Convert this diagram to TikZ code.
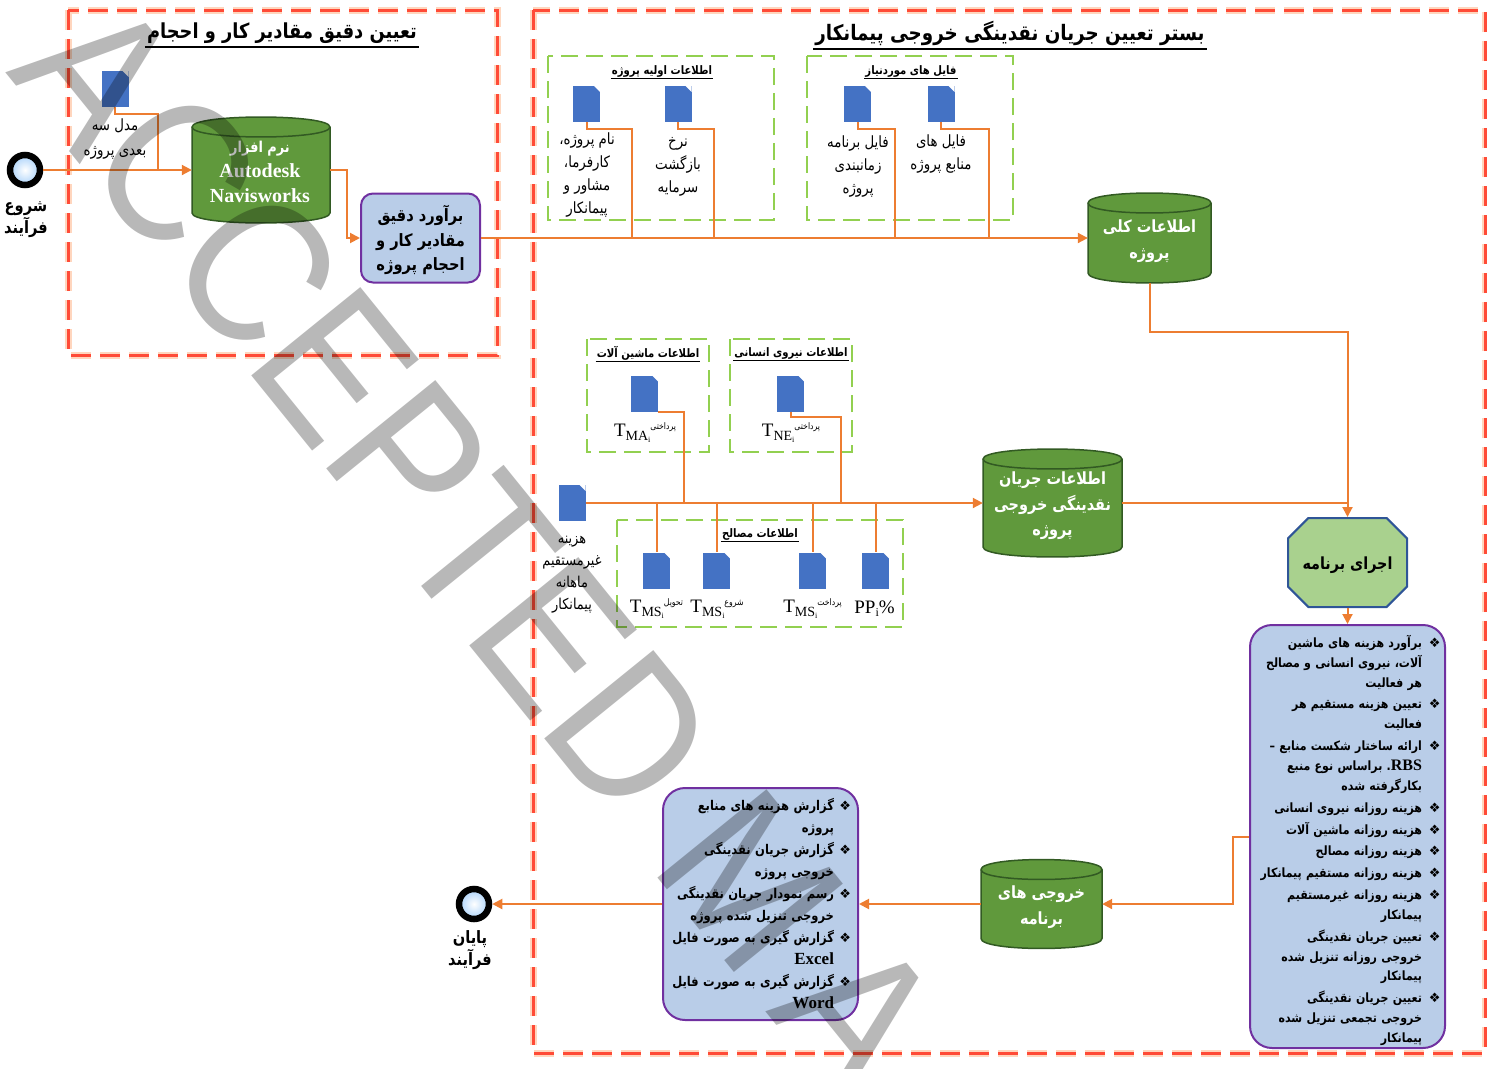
\documentclass[tikz,border=0pt]{standalone}
\usepackage{fontspec}
\usepackage{tikz}
\usepackage{xcolor}
\usetikzlibrary{arrows.meta,shapes.misc}
\setmainfont{Liberation Serif}
\newfontfamily\fa[Script=Arabic,FakeStretch=0.86]{DejaVu Sans}
\newfontfamily\symb{DejaVu Sans}
\newfontfamily\wmark{Liberation Sans}
\TeXXeTstate=1
\definecolor{flowline}{RGB}{237,125,49}
\definecolor{zonered}{RGB}{255,75,55}
\definecolor{zoneglow}{RGB}{255,214,190}
\definecolor{groupgreen}{RGB}{146,208,80}
\definecolor{cylgreen}{RGB}{96,153,60}
\definecolor{cyldark}{RGB}{50,90,35}
\definecolor{docblue}{RGB}{68,114,196}
\definecolor{boxblue}{RGB}{185,205,232}
\definecolor{boxpurple}{RGB}{112,48,160}
\definecolor{runfill}{RGB}{169,209,142}
\definecolor{runedge}{RGB}{47,85,151}
\definecolor{eventblue}{RGB}{170,210,250}
% a line of right-to-left text
\newcommand{\fl}[1]{\beginR #1\endR}
% list lines: with a bullet, and continued
\newcommand{\bulletw}{18.5pt}
\newcommand{\bulletgap}{0pt}
\newcommand{\itm}[1]{\fl{#1}\makebox[\bulletw][r]{\symb\fontsize{13}{13}\selectfont ❖\hspace{\bulletgap}}}
\newcommand{\cnt}[1]{\fl{#1}\makebox[\bulletw]{}}
\newcommand{\tlabel}[2]{{\fontsize{19}{19}\selectfont T\raisebox{-4pt}{\fontsize{14}{14}\selectfont #1\raisebox{-2pt}{\fontsize{8}{8}\selectfont i}}}\raisebox{7pt}{\fa\fontsize{9}{9}\selectfont\fl{#2}}}
% drum with a name: name, x, y, width, height, text
\newcommand{\storenode}[6]{%
    \path[storebody] (#2-#4/2,#3-#5/2+10) .. controls (#2-#4/2,#3-#5/2-3.3) and (#2+#4/2,#3-#5/2-3.3) .. (#2+#4/2,#3-#5/2+10)
        -- (#2+#4/2,#3+#5/2-10) .. controls (#2+#4/2,#3+#5/2+3.3) and (#2-#4/2,#3+#5/2+3.3) .. (#2-#4/2,#3+#5/2-10) -- cycle;
    \draw[cyldark, line width=1.5pt] (#2-#4/2,#3-#5/2+10) .. controls (#2-#4/2,#3-#5/2+23.3) and (#2+#4/2,#3-#5/2+23.3) .. (#2+#4/2,#3-#5/2+10);
    \node[inner sep=0pt, minimum width=#4, minimum height=#5] (#1) at (#2,#3) {};
    \node[store] (#1Lab) at (#2,#3+3) {#6};
}

\tikzset{
    zone/.style={draw=zonered, line width=3pt, dash pattern=on 20pt off 9pt,
        preaction={draw=zoneglow, line width=7pt, dash pattern=on 20pt off 9pt}},
    group/.style={draw=groupgreen, line width=2pt, dash pattern=on 17pt off 8pt},
    flow/.style={draw=flowline, line width=2pt},
    flowto/.style={flow, -{Triangle[length=10pt,width=10pt]}},
    docfile/.style={rectangle, minimum width=27, minimum height=36, inner sep=0pt, fill=docblue,
        path picture={\fill[white] (path picture bounding box.north east) -- ++(-6pt,0pt) -- ++(6pt,-6pt) -- cycle;}},
    storebody/.style={draw=cyldark, line width=1.5pt, fill=cylgreen},
    store/.style={rectangle, inner sep=0pt, text=white, align=center,
        font=\fa\bfseries\fontsize{16.8}{25.5}\selectfont},
    infobox/.style={rectangle, rounded corners=12pt, draw=boxpurple, line width=2pt, fill=boxblue,
        inner sep=0pt, align=right},
    event/.style={circle, draw=black, line width=6.5pt, minimum size=30, inner sep=0pt,
        inner color=white, outer color=eventblue},
    eventlab/.style={align=center, font=\fa\bfseries\fontsize{17}{22}\selectfont},
    ttl/.style={inner xsep=2pt, inner ysep=3.5pt, font=\fa\bfseries\fontsize{20.7}{24}\selectfont},
    grouphead/.style={inner sep=1pt, font=\fa\bfseries\fontsize{11.7}{13}\selectfont},
    doclab/.style={align=center, font=\fa\fontsize{15.5}{23}\selectfont},
    listtext/.style={font=\fa\bfseries\fontsize{12.8}{19.85}\selectfont},
    runfont/.style={font=\fa\bfseries\fontsize{16.7}{18}\selectfont}
}

\begin{document}
\begin{tikzpicture}[x=1pt, y=-1pt]
    \useasboundingbox (0,0) rectangle (1487,1068);

    % Zones
    \draw[zone] (68,10) rectangle (497,355);
    \draw[zone] (533,10) rectangle (1485,1053);
    \node[ttl] (ttlQuantity) at (282,33) {\fl{تعیین دقیق مقادیر کار و احجام}};
    \node[ttl, font=\fa\bfseries\fontsize{21.3}{24}\selectfont] (ttlContext) at (1010,33) {\fl{بستر تعیین جریان نقدینگی خروجی پیمانکار}};
    \draw[line width=1.5pt] (ttlQuantity.south west) -- (ttlQuantity.south east);
    \draw[line width=1.5pt] (ttlContext.south west) -- (ttlContext.south east);

    % Dashed groups
    \draw[group] (548,56) rectangle (774,220);
    \draw[group] (807,56) rectangle (1013,220);
    \draw[group] (587,339) rectangle (709,452);
    \draw[group] (730,339) rectangle (852,452);
    \draw[group] (617,520) rectangle (903,627);
    \node[grouphead] (headProject) at (662,71) {\fl{اطلاعات اولیه پروژه}};
    \node[grouphead] (headFiles) at (911,71) {\fl{فایل های موردنیاز}};
    \node[grouphead] (headMachine) at (648,353) {\fl{اطلاعات ماشین آلات}};
    \node[grouphead] (headLabour) at (791,353) {\fl{اطلاعات نیروی انسانی}};
    \node[grouphead] (headMaterial) at (760,534) {\fl{اطلاعات مصالح}};
    \foreach \h in {headProject,headFiles,headMachine,headLabour,headMaterial}
        \draw[line width=0.8pt] (\h.south west) -- (\h.south east);

    % Start and first zone
    \node[event] (start) at (25,170) {};
    \node[eventlab] (startLab) at (26,220) {\fl{شروع}\\\fl{فرآیند}};
    \node[docfile] (docModel) at (115,89) {};
    \node[doclab, font=\fa\fontsize{15.5}{25}\selectfont] (modelLab) at (115,139) {\fl{مدل سه}\\\fl{بعدی پروژه}};
    \storenode{soft}{261}{170}{138}{106}{}
    \node[text=white, align=center, font=\bfseries\fontsize{20}{25}\selectfont] (softLab) at (260,172)
        {{\fa\fontsize{15}{25}\selectfont\fl{نرم افزار}}\\Autodesk\\Navisworks};
    \node[infobox, minimum width=119, minimum height=89] (estimate) at (420.5,238) {};
    \node[align=center, inner sep=0pt, font=\fa\bfseries\fontsize{17}{24.5}\selectfont] (estimateLab) at (420.5,240)
        {\fl{برآورد دقیق}\\\fl{مقادیر کار و}\\\fl{احجام پروژه}};

    % Project data
    \node[docfile] (docName) at (586.5,104) {};
    \node[docfile] (docRate) at (678,104) {};
    \node[docfile] (docPlan) at (857.5,104) {};
    \node[docfile] (docRes) at (941,104) {};
    \node[doclab] (nameLab) at (587,175.5) {\fl{نام پروژه،}\\\fl{کارفرما،}\\\fl{مشاور و}\\\fl{پیمانکار}};
    \node[doclab] (rateLab) at (678,167) {\fl{نرخ}\\\fl{بازگشت}\\\fl{سرمایه}};
    \node[doclab] (planLab) at (858,167) {\fl{فایل برنامه}\\\fl{زمانبندی}\\\fl{پروژه}};
    \node[doclab] (resLab) at (941,154.5) {\fl{فایل های}\\\fl{منابع پروژه}};
    \storenode{general}{1149.5}{238}{123}{90}{\fl{اطلاعات کلی}\\\fl{پروژه}}

    % Cost data
    \node[docfile] (docMachine) at (644.5,393.5) {};
    \node[docfile] (docLabour) at (790.5,393.5) {};
    \node[docfile] (docIndirect) at (572,503) {};
    \node[docfile] (docDeliver) at (656.5,570.5) {};
    \node[docfile] (docStart) at (716.5,570.5) {};
    \node[docfile] (docPay) at (812.5,570.5) {};
    \node[docfile] (docPrice) at (875.5,570.5) {};
    \node (machineLab) at (645,433) {\tlabel{MA}{پرداختی}};
    \node (labourLab) at (791,433) {\tlabel{NE}{پرداختی}};
    \node (deliverLab) at (656.5,609) {\tlabel{MS}{تحویل}};
    \node (startMsLab) at (717,609) {\tlabel{MS}{شروع}};
    \node (payLab) at (812.5,609) {\tlabel{MS}{پرداخت}};
    \node (priceLab) at (874.5,609) {{\fontsize{19}{19}\selectfont PP\raisebox{-3pt}{\fontsize{12}{12}\selectfont i}\%}};
    \node[doclab, font=\fa\fontsize{15}{22}\selectfont] (indirectLab) at (572,574.5)
        {\fl{هزینه}\\\fl{غیرمستقیم}\\\fl{ماهانه}\\\fl{پیمانکار}};
    \storenode{cash}{1052.5}{503}{139}{108}{\fl{اطلاعات جریان}\\\fl{نقدینگی خروجی}\\\fl{پروژه}}

    % Run and results
    \node[chamfered rectangle, chamfered rectangle sep=12pt, minimum width=119, minimum height=89,
        inner sep=0pt, fill=runfill, draw=runedge, line width=2pt, runfont] (run) at (1347.5,562.5) {\phantom{\fl{اجرای}}};
    \node[inner sep=0pt, runfont] (runLab) at (1347.5,565) {\fl{اجرای برنامه}};
    \node[infobox, listtext, rounded corners=22pt, minimum width=195, minimum height=423, text width=186] (tasks) at (1347.5,836.5) {%
        \rule{0pt}{20pt}\itm{برآورد هزینه های ماشین}\\
        \cnt{آلات، نیروی انسانی و مصالح}\\
        \cnt{هر فعالیت}\\[2pt]
        \itm{تعیین هزینه مستقیم هر}\\
        \cnt{فعالیت}\\[2pt]
        \itm{ارائه ساختار شکست منابع –}\\
        \cnt{\beginL{\rmfamily\bfseries\fontsize{16}{16}\selectfont RBS}\endL. براساس نوع منبع}\\
        \cnt{بکارگرفته شده}\\[2pt]
        \itm{هزینه روزانه نیروی انسانی}\\[2pt]
        \itm{هزینه روزانه ماشین آلات}\\[2pt]
        \itm{هزینه روزانه مصالح}\\[2pt]
        \itm{هزینه روزانه مستقیم پیمانکار}\\[2pt]
        \itm{هزینه روزانه غیرمستقیم}\\
        \cnt{پیمانکار}\\[2pt]
        \itm{تعیین جریان نقدینگی}\\
        \cnt{خروجی روزانه تنزیل شده}\\
        \cnt{پیمانکار}\\[2pt]
        \itm{تعیین جریان نقدینگی}\\
        \cnt{خروجی تجمعی تنزیل شده}\\
        \cnt{پیمانکار}};
    \storenode{output}{1041.5}{904}{121}{89}{\fl{خروجی های}\\\fl{برنامه}}
    \renewcommand{\bulletw}{19.5pt}
    \renewcommand{\bulletgap}{2.5pt}
    \node[infobox, rounded corners=22pt, minimum width=195, minimum height=232, text width=186,
        font=\fa\bfseries\fontsize{13.4}{22}\selectfont] (reports) at (760.5,904) {%
        \itm{گزارش هزینه های منابع}\\
        \cnt{پروژه}\\
        \itm{گزارش جریان نقدینگی}\\
        \cnt{خروجی پروژه}\\
        \itm{رسم نمودار جریان نقدینگی}\\
        \cnt{خروجی تنزیل شده پروژه}\\
        \itm{گزارش گیری به صورت فایل}\\
        \cnt{{\rmfamily\bfseries\fontsize{17}{17}\selectfont\beginL Excel\endL}}\\
        \itm{گزارش گیری به صورت فایل}\\
        \cnt{{\rmfamily\bfseries\fontsize{17}{17}\selectfont\beginL Word\endL}}};
    \node[event] (finish) at (474,904) {};
    \node[eventlab] (finishLab) at (470,950.5) {\fl{پایان}\\\fl{فرآیند}};

    % Joints of the connectors
    \coordinate (jModel) at (158,114);
    \coordinate (jSoft) at (347,170);
    \coordinate (jName) at (632,129);
    \coordinate (jRate) at (714,129);
    \coordinate (jPlan) at (895,129);
    \coordinate (jRes) at (989,129);
    \coordinate (jGeneral) at (1347.5,332);
    \coordinate (jMachine) at (684,411);
    \coordinate (jLabour) at (841,417);
    \coordinate (jTasks) at (1233,836);

    % Connectors
    \draw[flowto] (start.east) -- (soft.west);
    \draw[flow] (docModel.south) |- (jModel) -- (jModel |- start.east);
    \draw[flowto] (soft.east) -- (jSoft) |- (estimate.west);
    \draw[flowto] (estimate.east) -- (general.west);
    \foreach \d/\j in {docName/jName,docRate/jRate,docPlan/jPlan,docRes/jRes}
        \draw[flow] (\d.south) |- (\j) -- (\j |- estimate.east);
    \draw[flowto] (general.south) |- (jGeneral) -- (run.north);
    \draw[flowto] (docIndirect.east) -- (cash.west);
    \draw[flow] (cash.east) -- (cash.east -| run.north);
    \draw[flow] (docMachine.south east) -| (jMachine |- docIndirect.east);
    \draw[flow] (docLabour.south) |- (jLabour) -- (jLabour |- docIndirect.east);
    \foreach \d in {docDeliver,docStart,docPay,docPrice}
        \draw[flow] (\d.north |- docIndirect.east) -- (\d.north);
    \draw[flowto] (run.south) -- (tasks.north);
    \draw[flowto] (tasks.west) -| (jTasks) |- (output.east);
    \draw[flowto] (output.west) -- (reports.east);
    \draw[flowto] (reports.west) -- (finish.east);

    % Watermark
    \node[anchor=base west, rotate=-51, inner sep=0pt, text=black, text opacity=0.28,
        font=\wmark\fontsize{204}{204}\selectfont] (stamp) at (5,72)
        {\scalebox{0.875}[1]{ACCEPTED\ }\scalebox{0.89}[1]{M\kern40pt A}};
\end{tikzpicture}
\end{document}
